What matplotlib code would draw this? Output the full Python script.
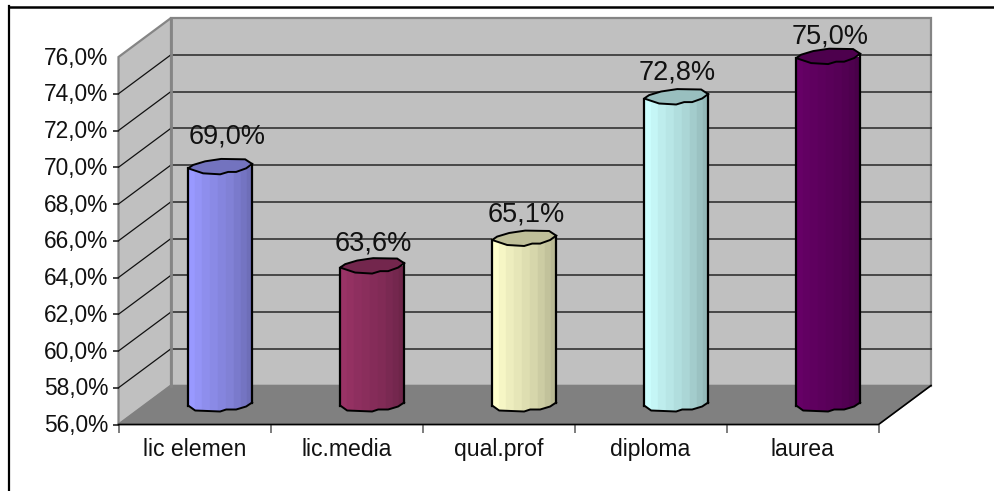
import matplotlib
matplotlib.use("Agg")
import matplotlib.pyplot as plt
import numpy as np
from matplotlib.colors import to_rgb
from matplotlib.patches import Polygon, Rectangle
from matplotlib.lines import Line2D
from matplotlib.transforms import ScaledTranslation

categories = ["lic elemen", "lic.media", "qual.prof", "diploma", "laurea"]
values = [69.0, 63.6, 65.1, 72.8, 75.0]
value_labels = ["69,0%", "63,6%", "65,1%", "72,8%", "75,0%"]
bar_colors = ["#9999FF", "#993366", "#FFFFCC", "#CCFFFF", "#660066"]
y_ticks = list(range(56, 78, 2))
y_tick_labels = [f"{v},0%" for v in y_ticks]
label_nudge_x = [6, 0, 1, 0, 1]
label_nudge_y = [6, -2, 0, 0, -4]

W, H = 994, 491
plt.rcParams["font.family"] = ["Liberation Sans", "DejaVu Sans"]
fig = plt.figure(figsize=(W / 100, H / 100), dpi=100, facecolor="white")

# front plane of the 3D box, in pixels
L, R, B, T = 118.5, 878.5, 424.5, 57.0
ax = fig.add_axes([L / W, 1 - B / H, (R - L) / W, (B - T) / H])
ax.set_xlim(0, len(categories))
ax.set_ylim(56, 76)
ax.patch.set_visible(False)
for s in ax.spines.values():
    s.set_visible(False)

px = len(categories) / (R - L)   # data units per pixel, x
py = 20 / (B - T)                # data units per pixel, y
dx, dy = 52.5 * px, 39 * py      # depth of the box

wall = "#C0C0C0"
floor = "#808080"
edge = "#858585"
ax.add_patch(Polygon([(dx, 56 + dy), (5 + dx, 56 + dy), (5 + dx, 76 + dy), (dx, 76 + dy)],
                     fc=wall, ec=edge, lw=1.6, clip_on=False, zorder=1))
ax.add_patch(Polygon([(0, 56), (dx, 56 + dy), (dx, 76 + dy), (0, 76)],
                     fc=wall, ec=edge, lw=1.6, clip_on=False, zorder=1))
ax.add_patch(Polygon([(0, 56), (5, 56), (5 + dx, 56 + dy), (dx, 56 + dy)],
                     fc=floor, ec=floor, lw=1, clip_on=False, zorder=1.5))

for v in y_ticks[1:-1]:
    ax.plot([dx, 5 + dx], [v + dy, v + dy], color="#333333", lw=1.2, clip_on=False, zorder=2)
    ax.plot([0, dx], [v, v + dy], color="#111111", lw=0.9, clip_on=False, zorder=2)
ax.plot([0, 5, 5 + dx], [56, 56, 56 + dy], color="black", lw=1.2, clip_on=False, zorder=2)
ax.plot([dx, dx], [56 + dy, 76 + dy], color=edge, lw=2, clip_on=False, zorder=2)

ax.set_yticks(y_ticks, y_tick_labels, fontsize=16.4, color="#111111")
ax.set_xticks(range(6), [""] * 6)
ax.set_xticks(np.arange(5) + 0.5, categories, minor=True, fontsize=16.6, color="#111111")
ax.tick_params(axis="y", length=4, width=1.2, pad=3.5, color="#222222")
ax.tick_params(axis="x", which="major", length=6, width=1.2, color="#666666")
ax.tick_params(axis="x", which="minor", length=0, pad=10)
ax.yaxis.get_major_ticks()[-1].tick1line.set_visible(False)
up = ScaledTranslation(0, 1.5 / 100, fig.dpi_scale_trans)
for t in ax.get_yticklabels():
    t.set_transform(t.get_transform() + up)

# irregular outlines of the cylinder ends, in pixels around their centres
cap_x = np.array([-32, -17, 0, 8, 16, 26, 32, 25, 1, -15, -27], float)
cap_y = np.array([-1.7, -6.7, -7.7, -5.3, -5.3, -1.7, 2.7, 7.3, 7.7, 5.3, 1.7], float)
rim_x = np.array([-32, -25, 0, 6, 16, 26, 32], float)
rim_y = np.array([-0.5, -5.5, -6.5, -4.5, -4.5, -1.5, 2.5], float)

shades = [1.0, 0.965, 0.93, 0.90, 0.87, 0.84, 0.80, 0.76, 0.72]
edges = np.array([-32, -25, -18, -10, -2, 6, 14, 21, 27, 32], float)

for i, (val, col, lab) in enumerate(zip(values, bar_colors, value_labels)):
    cx = i + 0.5 + dx / 2 - 0.6 * px
    cy0 = 56 + dy / 2
    cy1 = val + dy / 2 - 0.5 * py
    rgb = np.array(to_rgb(col))
    # body: vertical shaded strips, clipped to the irregular lower rim
    strips = []
    for k, sh in enumerate(shades):
        r = Rectangle((cx + edges[k] * px, cy0 - 8 * py), (edges[k + 1] - edges[k]) * px,
                      cy1 - cy0 + 8 * py, fc=rgb * sh, ec=rgb * sh, lw=0.3,
                      clip_on=True, zorder=3)
        ax.add_patch(r)
        strips.append(r)
    outline = np.column_stack([
        np.r_[cx + rim_x * px, cx + 32 * px, cx - 32 * px],
        np.r_[cy0 + rim_y * py, cy1, cy1],
    ])
    clip = Polygon(outline, transform=ax.transData, fc="none", ec="none")
    ax.add_patch(clip)
    clip.set_clip_on(False)
    for r in strips:
        r.set_clip_path(clip)
    ax.plot(cx + rim_x * px, cy0 + rim_y * py, color="black", lw=1.4, clip_on=False, zorder=4)
    ax.plot([cx - 32 * px] * 2, [cy0 - 0.5 * py, cy1 - 1.7 * py], color="black", lw=1.6,
            clip_on=False, zorder=4)
    ax.plot([cx + 32 * px] * 2, [cy0 + 2.5 * py, cy1 + 2.7 * py], color="black", lw=1.6,
            clip_on=False, zorder=4)
    ax.add_patch(Polygon(np.column_stack([cx + cap_x * px, cy1 + cap_y * py]),
                         fc=rgb * 0.75, ec="black", lw=1.4, clip_on=False, zorder=5))
    ax.text(cx + (1 + label_nudge_x[i]) * px, cy1 + (11 + label_nudge_y[i]) * py, lab,
            ha="center", va="bottom", fontsize=19.5, color="#111111", zorder=6, clip_on=False)

# outer frame: only the top and left rules
fig.add_artist(Line2D([9 / W, 9 / W], [0, 1 - 6 / H], color="black", lw=1.6))
fig.add_artist(Line2D([8.5 / W, 1], [1 - 6.5 / H, 1 - 6.5 / H], color="black", lw=1.8))

fig.savefig("out.png", dpi=100, facecolor="white")
